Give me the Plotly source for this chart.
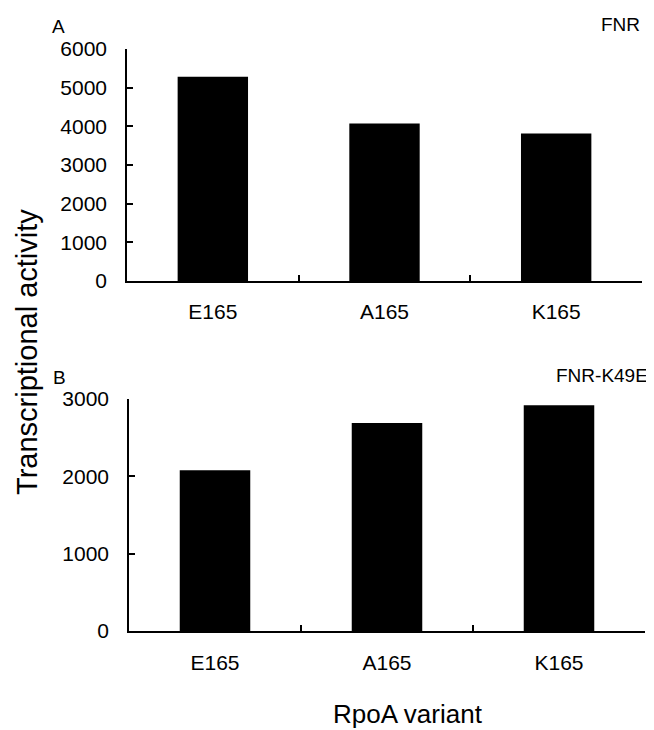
import plotly.graph_objects as go

categories = ["E165", "A165", "K165"]
fnr_values = [5280, 4075, 3815]
fnr_k49e_values = [2080, 2690, 2920]
top_ticks = [0, 1000, 2000, 3000, 4000, 5000, 6000]
bottom_ticks = [0, 1000, 2000, 3000]

W, H = 654, 730
OFF = 8  # page body margin offset
FONT = "Liberation Sans, Arial, sans-serif"

def px_x(p):
    return (p - OFF) / W

def px_y(p):
    return 1 - (p - OFF) / H

fig = go.Figure()
fig.add_trace(go.Bar(x=categories, y=fnr_values, marker=dict(color="black", line=dict(width=0)),
                     xaxis="x", yaxis="y", showlegend=False))
fig.add_trace(go.Bar(x=categories, y=fnr_k49e_values, marker=dict(color="black", line=dict(width=0)),
                     xaxis="x2", yaxis="y2", showlegend=False))

line_common = dict(showline=True, linecolor="black", linewidth=1.5, showgrid=False,
                   zeroline=False, tickcolor="black", tickwidth=1.5, automargin=False,
                   tickfont=dict(family=FONT, size=21, color="black"))

fig.update_layout(
    width=W, height=H,
    margin=dict(l=0, r=0, t=0, b=0, pad=0),
    paper_bgcolor="white", plot_bgcolor="white",
    bargap=0.59,
    xaxis=dict(domain=[px_x(127), px_x(642)], anchor="y", type="category",
               range=[-0.5, 2.5], ticks="inside", tickson="boundaries", ticklen=6,
               ticklabelstandoff=11, **line_common),
    yaxis=dict(domain=[px_y(281), px_y(49)], anchor="x", range=[0, 6000],
               tickvals=top_ticks, ticks="inside", ticklen=6, ticklabelstandoff=14,
               **line_common),
    xaxis2=dict(domain=[px_x(129), px_x(645)], anchor="y2", type="category",
                range=[-0.5, 2.5], ticks="inside", tickson="boundaries", ticklen=6,
                ticklabelstandoff=12, **line_common),
    yaxis2=dict(domain=[px_y(631), px_y(399)], anchor="x2", range=[0, 3000],
                tickvals=bottom_ticks, ticks="inside", ticklen=6, ticklabelstandoff=14,
                **line_common),
)

def ann(text, x, y, size, xanchor="center", yanchor="middle", angle=0):
    fig.add_annotation(text=text, x=px_x(x), y=px_y(y), xref="paper", yref="paper",
                       showarrow=False, xanchor=xanchor, yanchor=yanchor, textangle=angle,
                       font=dict(family=FONT, size=size, color="black"))

ann("A", 58, 26, 19)
ann("FNR", 642, 25, 19, xanchor="right")
ann("B", 59, 377, 19)
ann("FNR-K49E", 650, 375, 19, xanchor="right")
ann("RpoA variant", 408, 714, 26)
ann("Transcriptional activity", 27, 352, 29, angle=-90)

fig.write_html("out.html")
